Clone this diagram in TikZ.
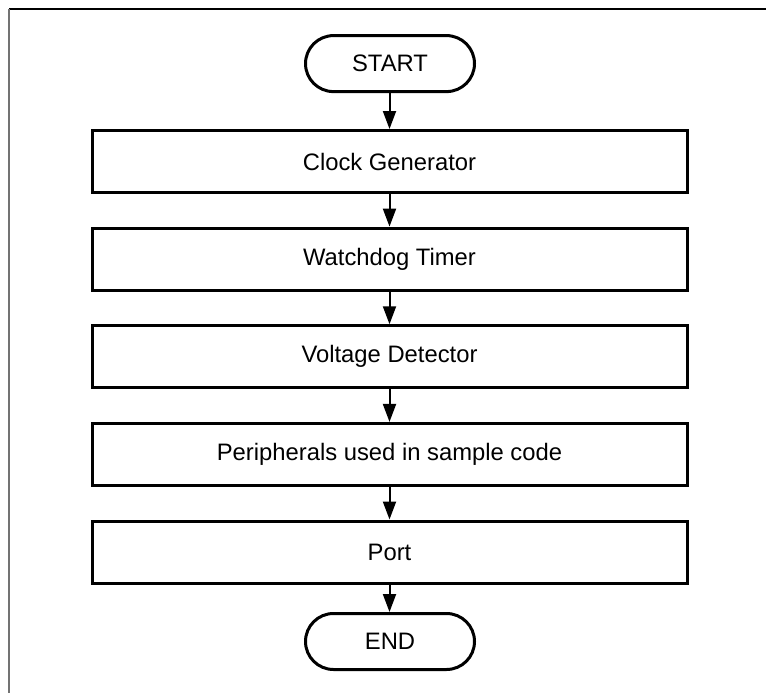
\documentclass[tikz,border=0pt]{standalone}
\usepackage{fontspec}
\setmainfont{Liberation Sans}
\usetikzlibrary{arrows.meta}
\begin{document}
\begin{tikzpicture}[x=1pt,y=-1pt,
  procbox/.style={draw=black, line width=3pt, fill=white, rectangle, minimum width=595pt, minimum height=62pt, inner sep=0pt, font=\fontsize{23.8}{28}\selectfont},
  termbox/.style={draw=black, line width=3pt, fill=white, rectangle, rounded corners=28pt, minimum width=169pt, minimum height=56pt, inner sep=0pt, font=\fontsize{23.8}{28}\selectfont},
  flow/.style={line width=2pt, -{Triangle[length=18pt,width=13pt]}}]
\useasboundingbox (0,0) rectangle (766,693);
\coordinate (ftl) at (9,9.3);
\coordinate (ftr) at (766,9.3);
\coordinate (fbl) at (9,693);
\draw[line width=2pt, black] (ftl) -- (ftr);
\draw[line width=2pt, black!55] (ftl) -- (fbl);
\node[termbox] (start) at (390,63.6) {START};
\node[procbox] (clk) at (389.5,161.5) {Clock Generator};
\node[procbox] (wdt) at (389.5,259.1) {Watchdog Timer};
\node[procbox] (vd) at (389.5,356.75) {Voltage Detector};
\node[procbox] (per) at (389.5,454.4) {Peripherals used in sample code};
\node[procbox] (port) at (389.5,552) {Port};
\node[termbox] (end) at (390,641.5) {END};
\draw[flow] (start.south -| clk.north) -- (clk.north);
\draw[flow] (clk) -- (wdt);
\draw[flow] (wdt) -- (vd);
\draw[flow] (vd) -- (per);
\draw[flow] (per) -- (port);
\draw[flow] (port.south) -- (port.south |- end.north);
\end{tikzpicture}
\end{document}
